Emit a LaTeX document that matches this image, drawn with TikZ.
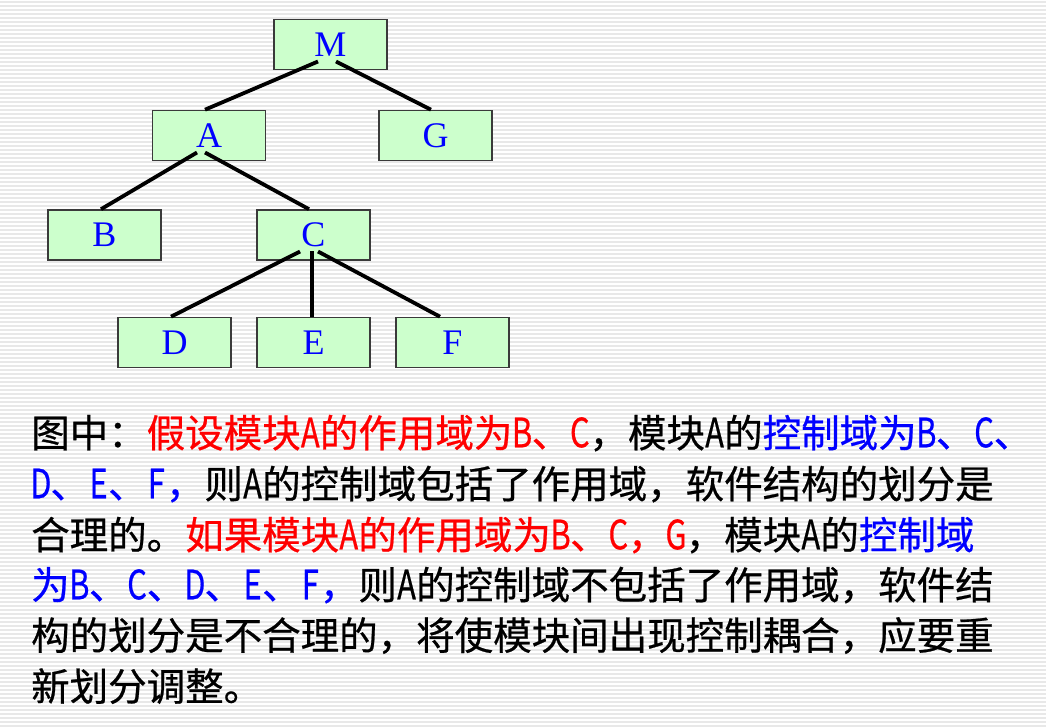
\documentclass[tikz,border=0pt]{standalone}
\usepackage{fontspec}
\usetikzlibrary{calc}
\setmainfont{Liberation Serif}
\newfontfamily\cjk[FakeBold=0.6]{Noto Sans CJK SC}
\definecolor{boxfill}{HTML}{CCFFCC}
\definecolor{boxline}{HTML}{3A3A3A}
\definecolor{stripe}{HTML}{E8E8E8}
\definecolor{tred}{HTML}{FF0000}
\definecolor{tblue}{HTML}{0000FF}
\newcommand{\hw}[1]{\makebox[0.5em][c]{\scalebox{0.8}[1.05]{#1}}}
\newcommand{\R}[1]{\textcolor{tred}{#1}}
\newcommand{\B}[1]{\textcolor{tblue}{#1}}
\tikzset{
  modbox/.style={draw=boxline, line width=1.6pt, fill=boxfill, minimum width=113pt, minimum height=50pt, inner sep=0pt, text=tblue, font=\fontsize{36pt}{36pt}\selectfont, text height=24pt, text depth=0pt},
  link/.style={line width=3.8pt, black},
  txtline/.style={anchor=west, inner sep=0pt, font=\cjk\fontsize{38.5pt}{38.5pt}\selectfont, text height=0.88em, text depth=0.12em}
}
\begin{document}
\begin{tikzpicture}[x=1pt,y=-1pt]
\useasboundingbox (0,0) rectangle (1046,727);
\fill[white] (0,0) rectangle (1046,727);
\foreach \yy in {2,6,...,726} \draw[stripe, line width=1.3pt] (0,\yy) -- (1046,\yy);
% boxes
\node[modbox] (M) at (330.5,44.5) {M};
\node[modbox] (A) at (209,135.5) {A};
\node[modbox] (G) at (435.5,135.5) {G};
\node[modbox] (B) at (104.5,235) {B};
\node[modbox] (C) at (313.5,235) {C};
\node[modbox] (D) at (174.5,342.5) {D};
\node[modbox] (E) at (313.5,342.5) {E};
\node[modbox] (F) at (452.5,342.5) {F};
% connectors
\draw[link] ($(M.center)+(-12.5,17)$) -- ($(A.north)+(-4,0)$);
\draw[link] ($(M.center)+(5.5,17)$) -- ($(G.north)+(-4.5,0)$);
\draw[link] ($(A.center)+(-12,17)$) -- ($(B.north)+(-3.5,0)$);
\draw[link] ($(A.center)+(-4,17)$) -- ($(C.north)+(-4.5,0)$);
\draw[link] ($(C.center)+(-13.5,16.5)$) -- ($(D.north)+(-3.5,0)$);
\draw[link] ($(C.center)+(-1.5,16.5)$) -- ($(E.north)+(-1.5,0)$);
\draw[link] ($(C.center)+(4.5,16.5)$) -- ($(F.north)+(-12.5,0)$);
% text
\node[txtline] (t1) at (31,443.5) {图中：\R{假设模块\hw{A}的作用域为\hw{B}、\hw{C}}，模块\hw{A}的\B{控制域为\hw{B}、\hw{C}、}};
\node[txtline] (t2) at (31,494.5) {\B{\hw{D}、\hw{E}、\hw{F}，}则\hw{A}的控制域包括了作用域，软件结构的划分是};
\node[txtline] (t3) at (31,545.5) {合理的。\R{如果模块\hw{A}的作用域为\hw{B}、\hw{C}，\hw{G}}，模块\hw{A}的\B{控制域}};
\node[txtline] (t4) at (31,595.5) {\B{为\hw{B}、\hw{C}、\hw{D}、\hw{E}、\hw{F}，}则\hw{A}的控制域不包括了作用域，软件结};
\node[txtline] (t5) at (31,646) {构的划分是不合理的，将使模块间出现控制耦合，应要重};
\node[txtline] (t6) at (31,697) {新划分调整。};
\end{tikzpicture}
\end{document}
